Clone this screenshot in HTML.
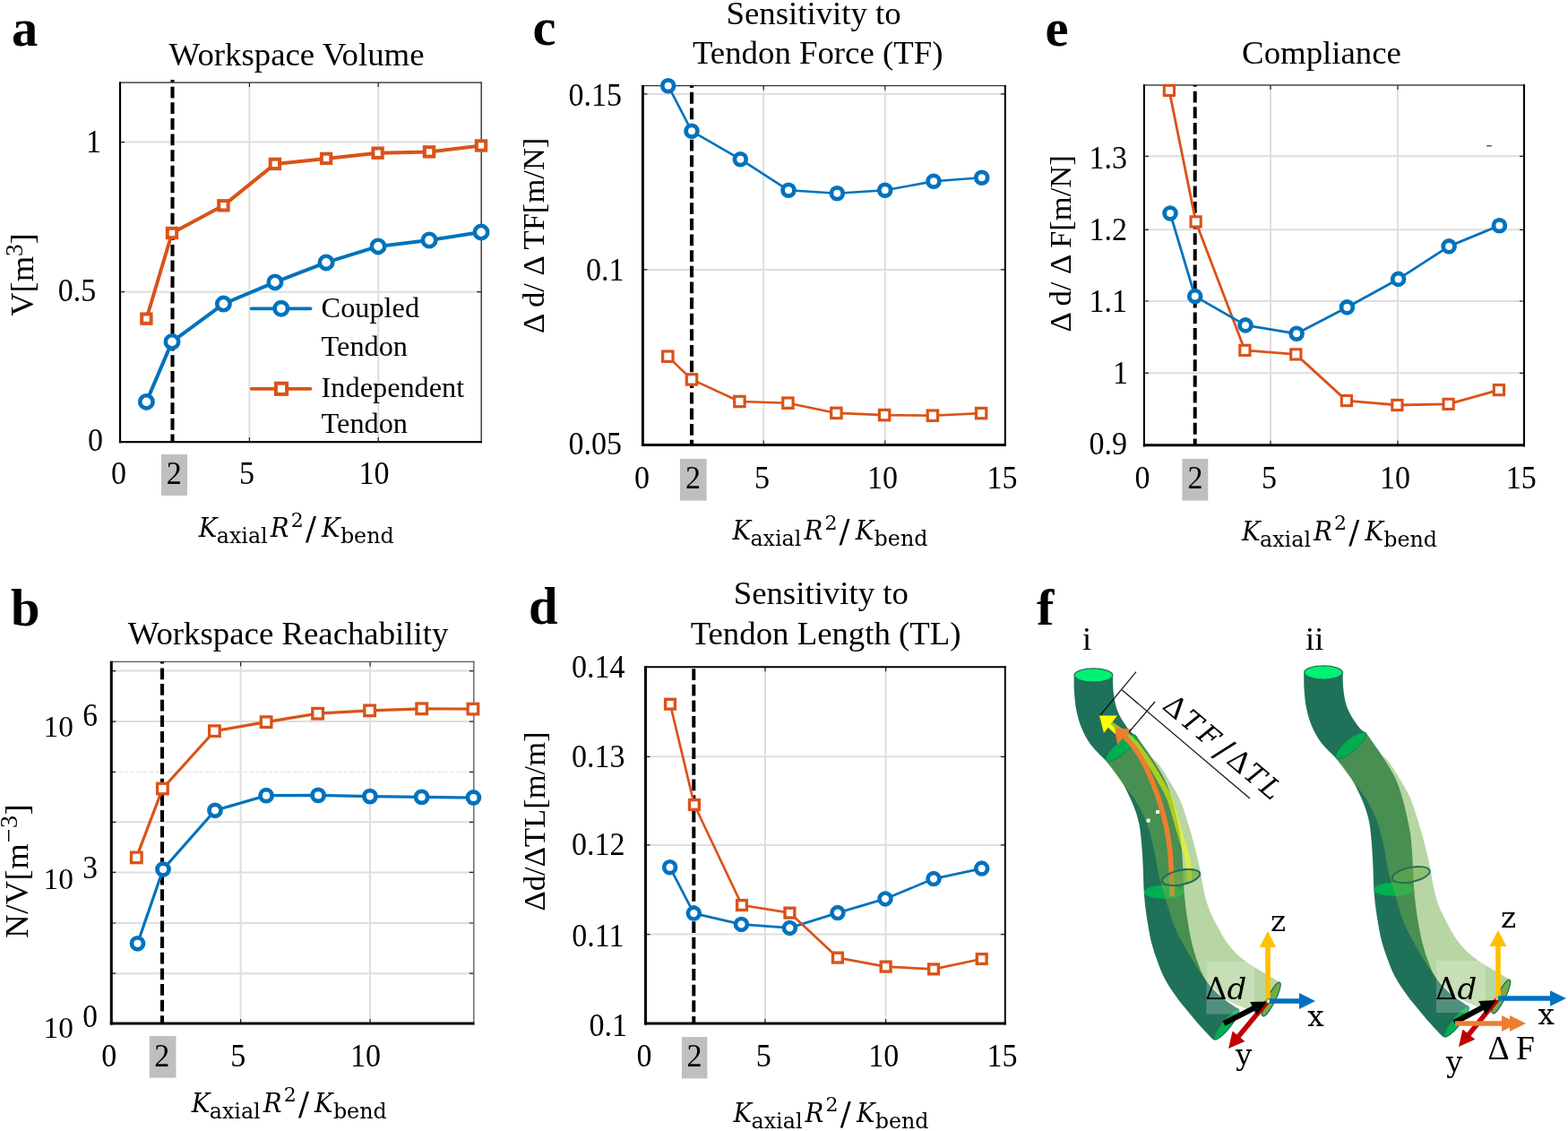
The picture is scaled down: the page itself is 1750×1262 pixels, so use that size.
<!DOCTYPE html>
<html lang="en"><head><meta charset="utf-8"><title>Figure</title>
<style>html,body{margin:0;padding:0;background:#fff;overflow:hidden}svg{display:block}</style></head><body>
<svg width="1750" height="1262" viewBox="0 0 1750 1262" role="img" aria-label="Six-panel figure: workspace volume, workspace reachability, sensitivity to tendon force, sensitivity to tendon length, compliance, and tendon robot illustrations">
<rect width="1750" height="1262" fill="#fff"/>
<line x1="278.4" y1="92.1" x2="278.4" y2="493.1" stroke="#dedede" stroke-width="2"/>
<line x1="422.2" y1="92.1" x2="422.2" y2="493.1" stroke="#dedede" stroke-width="2"/>
<line x1="134" y1="158.6" x2="537.2" y2="158.6" stroke="#dedede" stroke-width="2"/>
<line x1="134" y1="325.7" x2="537.2" y2="325.7" stroke="#dedede" stroke-width="2"/>
<path d="M278.4 493.1v-5 M278.4 92.1v5" stroke="#222" stroke-width="1.2"/>
<path d="M422.2 493.1v-5 M422.2 92.1v5" stroke="#222" stroke-width="1.2"/>
<path d="M134 158.6h5 M537.2 158.6h-5" stroke="#222" stroke-width="1.2"/>
<path d="M134 325.7h5 M537.2 325.7h-5" stroke="#222" stroke-width="1.2"/>
<line x1="132.9" y1="92.1" x2="537.9" y2="92.1" stroke="#222" stroke-width="1.3"/>
<line x1="537.2" y1="91.4" x2="537.2" y2="494.2" stroke="#222" stroke-width="1.3"/>
<line x1="192.5" y1="89.1" x2="192.5" y2="493.1" stroke="#000" stroke-width="4.1" stroke-dasharray="12.8 4.83" stroke-dashoffset="10.1"/>
<line x1="134" y1="91.4" x2="134" y2="494.2" stroke="#000" stroke-width="2.2"/>
<line x1="132.9" y1="493.1" x2="537.9" y2="493.1" stroke="#000" stroke-width="2.2"/>
<polyline fill="none" stroke="#0072BD" stroke-width="4.0" stroke-linejoin="round" points="163.4,448.4 192,381.4 249.4,339.1 306.9,314.9 364,292.9 422,274.9 479.1,268 537,259.1"/>
<polyline fill="none" stroke="#D95319" stroke-width="4.0" stroke-linejoin="round" points="163.4,355.7 192,260 249.4,229.3 306.9,182.9 364.1,176.9 421.6,170.7 479,169.4 537,162.5"/>
<circle cx="163.4" cy="448.4" r="7.2" fill="#fff" stroke="#0072BD" stroke-width="4.6"/>
<circle cx="192" cy="381.4" r="7.2" fill="#fff" stroke="#0072BD" stroke-width="4.6"/>
<circle cx="249.4" cy="339.1" r="7.2" fill="#fff" stroke="#0072BD" stroke-width="4.6"/>
<circle cx="306.9" cy="314.9" r="7.2" fill="#fff" stroke="#0072BD" stroke-width="4.6"/>
<circle cx="364" cy="292.9" r="7.2" fill="#fff" stroke="#0072BD" stroke-width="4.6"/>
<circle cx="422" cy="274.9" r="7.2" fill="#fff" stroke="#0072BD" stroke-width="4.6"/>
<circle cx="479.1" cy="268" r="7.2" fill="#fff" stroke="#0072BD" stroke-width="4.6"/>
<circle cx="537" cy="259.1" r="7.2" fill="#fff" stroke="#0072BD" stroke-width="4.6"/>
<rect x="158.2" y="350.5" width="10.4" height="10.4" fill="#fff" stroke="#D95319" stroke-width="4.0"/>
<rect x="186.8" y="254.8" width="10.4" height="10.4" fill="#fff" stroke="#D95319" stroke-width="4.0"/>
<rect x="244.2" y="224.1" width="10.4" height="10.4" fill="#fff" stroke="#D95319" stroke-width="4.0"/>
<rect x="301.7" y="177.7" width="10.4" height="10.4" fill="#fff" stroke="#D95319" stroke-width="4.0"/>
<rect x="358.9" y="171.7" width="10.4" height="10.4" fill="#fff" stroke="#D95319" stroke-width="4.0"/>
<rect x="416.4" y="165.5" width="10.4" height="10.4" fill="#fff" stroke="#D95319" stroke-width="4.0"/>
<rect x="473.8" y="164.2" width="10.4" height="10.4" fill="#fff" stroke="#D95319" stroke-width="4.0"/>
<rect x="531.8" y="157.3" width="10.4" height="10.4" fill="#fff" stroke="#D95319" stroke-width="4.0"/>
<rect x="180" y="507" width="29" height="46" fill="#bfbfbf"/>
<text transform="translate(132.5 540.2) scale(0.955 1)" font-size="35.6" text-anchor="middle" font-family='"Liberation Serif", serif' >0</text>
<text transform="translate(194.3 540.2) scale(0.955 1)" font-size="35.6" text-anchor="middle" font-family='"Liberation Serif", serif' >2</text>
<text transform="translate(275.6 540.2) scale(0.955 1)" font-size="35.6" text-anchor="middle" font-family='"Liberation Serif", serif' >5</text>
<text transform="translate(417.5 540.2) scale(0.955 1)" font-size="35.6" text-anchor="middle" font-family='"Liberation Serif", serif' >10</text>
<text transform="translate(115 503.2) scale(0.955 1)" font-size="35.6" text-anchor="end" font-family='"Liberation Serif", serif' >0</text>
<text transform="translate(107.3 336.2) scale(0.955 1)" font-size="35.6" text-anchor="end" font-family='"Liberation Serif", serif' >0.5</text>
<text transform="translate(113 169.7) scale(0.955 1)" font-size="35.6" text-anchor="end" font-family='"Liberation Serif", serif' >1</text>
<text transform="translate(221.7 599.3) scale(0.9 1)" font-family='"DejaVu Serif", "Liberation Serif", serif' font-size="30.7" font-style="italic">K</text>
<text x="241.7" y="606.1" font-family='"DejaVu Serif", "Liberation Serif", serif' font-size="23.8">axial</text>
<text transform="translate(301.7 599.3) scale(0.9 1)" font-family='"DejaVu Serif", "Liberation Serif", serif' font-size="30.7" font-style="italic">R</text>
<text x="324.7" y="587.5" font-family='"DejaVu Serif", "Liberation Serif", serif' font-size="22">2</text>
<text x="340.9" y="601.9" font-family='"DejaVu Serif", "Liberation Serif", serif' font-size="35.6">/</text>
<text transform="translate(359.1 599.3) scale(0.9 1)" font-family='"DejaVu Serif", "Liberation Serif", serif' font-size="30.7" font-style="italic">K</text>
<text x="379.9" y="606.1" font-family='"DejaVu Serif", "Liberation Serif", serif' font-size="23.8">bend</text>
<text x="188.6" y="73.3" font-size="36.8" text-anchor="start" font-family='"Liberation Serif", serif' >Workspace Volume</text>
<text transform="translate(37.2 306.5) rotate(-90)" font-size="36.5" text-anchor="middle" font-family='"Liberation Serif", serif' >V[m<tspan font-size="27" dy="-12.5">3</tspan><tspan dy="12.5">]</tspan></text>
<line x1="280.7" y1="344.3" x2="346.5" y2="344.3" stroke="#0072BD" stroke-width="3.8" stroke-linecap="round"/>
<circle cx="313.8" cy="344.3" r="7.2" fill="#fff" stroke="#0072BD" stroke-width="4.6"/>
<line x1="280.7" y1="433.8" x2="346.5" y2="433.8" stroke="#D95319" stroke-width="3.8" stroke-linecap="round"/>
<rect x="307.9" y="427.7" width="12.2" height="12.2" fill="#fff" stroke="#D95319" stroke-width="4.0"/>
<text x="358.6" y="354.3" font-size="32.3" text-anchor="start" font-family='"Liberation Serif", serif' >Coupled</text>
<text x="358.6" y="396.8" font-size="32.3" text-anchor="start" font-family='"Liberation Serif", serif' >Tendon</text>
<text x="358.6" y="443.4" font-size="32.3" text-anchor="start" font-family='"Liberation Serif", serif' >Independent</text>
<text x="358.6" y="483" font-size="32.3" text-anchor="start" font-family='"Liberation Serif", serif' >Tendon</text>
<line x1="268.6" y1="738.4" x2="268.6" y2="1142.1" stroke="#dedede" stroke-width="2"/>
<line x1="413.1" y1="738.4" x2="413.1" y2="1142.1" stroke="#dedede" stroke-width="2"/>
<line x1="124.3" y1="748.6" x2="528.8" y2="748.6" stroke="#dedede" stroke-width="2"/>
<line x1="124.3" y1="805.1" x2="528.8" y2="805.1" stroke="#dedede" stroke-width="2"/>
<line x1="124.3" y1="917.3" x2="528.8" y2="917.3" stroke="#dedede" stroke-width="2"/>
<line x1="124.3" y1="973.4" x2="528.8" y2="973.4" stroke="#dedede" stroke-width="2"/>
<line x1="124.3" y1="1030" x2="528.8" y2="1030" stroke="#dedede" stroke-width="2"/>
<line x1="124.3" y1="1086.2" x2="528.8" y2="1086.2" stroke="#dedede" stroke-width="2"/>
<line x1="124.3" y1="861.3" x2="528.8" y2="861.3" stroke="#e6e6e6" stroke-width="1.2" stroke-dasharray="5 2"/>
<path d="M268.6 1142.1v-5 M268.6 738.4v5" stroke="#222" stroke-width="1.2"/>
<path d="M413.1 1142.1v-5 M413.1 738.4v5" stroke="#222" stroke-width="1.2"/>
<path d="M124.3 748.6h5 M528.8 748.6h-5" stroke="#222" stroke-width="1.2"/>
<path d="M124.3 805.1h5 M528.8 805.1h-5" stroke="#222" stroke-width="1.2"/>
<path d="M124.3 917.3h5 M528.8 917.3h-5" stroke="#222" stroke-width="1.2"/>
<path d="M124.3 973.4h5 M528.8 973.4h-5" stroke="#222" stroke-width="1.2"/>
<path d="M124.3 1030h5 M528.8 1030h-5" stroke="#222" stroke-width="1.2"/>
<path d="M124.3 1086.2h5 M528.8 1086.2h-5" stroke="#222" stroke-width="1.2"/>
<path d="M124.3 861.3h5 M528.8 861.3h-5" stroke="#222" stroke-width="1.2"/>
<line x1="122.8" y1="738.4" x2="529.4" y2="738.4" stroke="#555" stroke-width="1.3"/>
<line x1="528.8" y1="737.8" x2="528.8" y2="1143.6" stroke="#555" stroke-width="1.3"/>
<line x1="181" y1="738.4" x2="181" y2="1142.1" stroke="#000" stroke-width="4.1" stroke-dasharray="12.8 4.83" stroke-dashoffset="10.6"/>
<line x1="124.3" y1="737.8" x2="124.3" y2="1143.6" stroke="#000" stroke-width="3.0"/>
<line x1="122.8" y1="1142.1" x2="529.4" y2="1142.1" stroke="#000" stroke-width="3.0"/>
<polyline fill="none" stroke="#0072BD" stroke-width="3.2" stroke-linejoin="round" points="153.5,1052.8 182,970 240,904.3 297.1,887.7 355.1,887.4 412.9,888.6 470.6,889.4 528.4,890"/>
<polyline fill="none" stroke="#D95319" stroke-width="3.2" stroke-linejoin="round" points="152.3,956.9 181.4,880 239.4,815.7 297.1,805.7 354.6,796.2 412.6,792.9 470.7,790.8 527.9,791.1"/>
<circle cx="153.5" cy="1052.8" r="6.5" fill="#fff" stroke="#0072BD" stroke-width="4.8"/>
<circle cx="182" cy="970" r="6.5" fill="#fff" stroke="#0072BD" stroke-width="4.8"/>
<circle cx="240" cy="904.3" r="6.5" fill="#fff" stroke="#0072BD" stroke-width="4.8"/>
<circle cx="297.1" cy="887.7" r="6.5" fill="#fff" stroke="#0072BD" stroke-width="4.8"/>
<circle cx="355.1" cy="887.4" r="6.5" fill="#fff" stroke="#0072BD" stroke-width="4.8"/>
<circle cx="412.9" cy="888.6" r="6.5" fill="#fff" stroke="#0072BD" stroke-width="4.8"/>
<circle cx="470.6" cy="889.4" r="6.5" fill="#fff" stroke="#0072BD" stroke-width="4.8"/>
<circle cx="528.4" cy="890" r="6.5" fill="#fff" stroke="#0072BD" stroke-width="4.8"/>
<rect x="146.5" y="951.1" width="11.6" height="11.6" fill="#fff" stroke="#D95319" stroke-width="3.3"/>
<rect x="175.6" y="874.2" width="11.6" height="11.6" fill="#fff" stroke="#D95319" stroke-width="3.3"/>
<rect x="233.6" y="809.9" width="11.6" height="11.6" fill="#fff" stroke="#D95319" stroke-width="3.3"/>
<rect x="291.3" y="799.9" width="11.6" height="11.6" fill="#fff" stroke="#D95319" stroke-width="3.3"/>
<rect x="348.8" y="790.4" width="11.6" height="11.6" fill="#fff" stroke="#D95319" stroke-width="3.3"/>
<rect x="406.8" y="787.1" width="11.6" height="11.6" fill="#fff" stroke="#D95319" stroke-width="3.3"/>
<rect x="464.9" y="785" width="11.6" height="11.6" fill="#fff" stroke="#D95319" stroke-width="3.3"/>
<rect x="522.1" y="785.3" width="11.6" height="11.6" fill="#fff" stroke="#D95319" stroke-width="3.3"/>
<rect x="166.7" y="1156.1" width="29.8" height="46.5" fill="#bfbfbf"/>
<text transform="translate(121.8 1189.7) scale(0.955 1)" font-size="35.6" text-anchor="middle" font-family='"Liberation Serif", serif' >0</text>
<text transform="translate(180.7 1189.7) scale(0.955 1)" font-size="35.6" text-anchor="middle" font-family='"Liberation Serif", serif' >2</text>
<text transform="translate(265.7 1189.7) scale(0.955 1)" font-size="35.6" text-anchor="middle" font-family='"Liberation Serif", serif' >5</text>
<text transform="translate(408 1189.7) scale(0.955 1)" font-size="35.6" text-anchor="middle" font-family='"Liberation Serif", serif' >10</text>
<text transform="translate(213.7 1241) scale(0.9 1)" font-family='"DejaVu Serif", "Liberation Serif", serif' font-size="30.7" font-style="italic">K</text>
<text x="233.7" y="1247.8" font-family='"DejaVu Serif", "Liberation Serif", serif' font-size="23.8">axial</text>
<text transform="translate(293.7 1241) scale(0.9 1)" font-family='"DejaVu Serif", "Liberation Serif", serif' font-size="30.7" font-style="italic">R</text>
<text x="316.7" y="1229.2" font-family='"DejaVu Serif", "Liberation Serif", serif' font-size="22">2</text>
<text x="332.9" y="1243.6" font-family='"DejaVu Serif", "Liberation Serif", serif' font-size="35.6">/</text>
<text transform="translate(351.1 1241) scale(0.9 1)" font-family='"DejaVu Serif", "Liberation Serif", serif' font-size="30.7" font-style="italic">K</text>
<text x="371.9" y="1247.8" font-family='"DejaVu Serif", "Liberation Serif", serif' font-size="23.8">bend</text>
<text x="48.6" y="822.3" font-size="33.4" text-anchor="start" font-family='"Liberation Serif", serif' >10</text>
<text transform="translate(92.3 809.6) scale(0.95 1)" font-size="35.2" text-anchor="start" font-family='"Liberation Serif", serif' >6</text>
<text x="48.6" y="991.7" font-size="33.4" text-anchor="start" font-family='"Liberation Serif", serif' >10</text>
<text transform="translate(92.3 980.3) scale(0.95 1)" font-size="35.2" text-anchor="start" font-family='"Liberation Serif", serif' >3</text>
<text x="48.6" y="1158.3" font-size="33.4" text-anchor="start" font-family='"Liberation Serif", serif' >10</text>
<text transform="translate(92.3 1146.3) scale(0.95 1)" font-size="35.2" text-anchor="start" font-family='"Liberation Serif", serif' >0</text>
<text x="142.7" y="718.8" font-size="36.8" text-anchor="start" font-family='"Liberation Serif", serif' >Workspace Reachability</text>
<text transform="translate(31 971.8) rotate(-90)" font-size="36.5" text-anchor="middle" font-family='"Liberation Serif", serif' letter-spacing="0.45">N/V[m<tspan font-size="28" dy="-12.5" dx="0.8">−3</tspan><tspan dy="12.5">]</tspan></text>
<line x1="852.2" y1="95.6" x2="852.2" y2="496.5" stroke="#dedede" stroke-width="2"/>
<line x1="987.8" y1="95.6" x2="987.8" y2="496.5" stroke="#dedede" stroke-width="2"/>
<line x1="717.4" y1="104.9" x2="1121.8" y2="104.9" stroke="#dedede" stroke-width="2"/>
<line x1="717.4" y1="300.9" x2="1121.8" y2="300.9" stroke="#dedede" stroke-width="2"/>
<path d="M852.2 496.5v-5 M852.2 95.6v5" stroke="#222" stroke-width="1.2"/>
<path d="M987.8 496.5v-5 M987.8 95.6v5" stroke="#222" stroke-width="1.2"/>
<path d="M717.4 104.9h5 M1121.8 104.9h-5" stroke="#222" stroke-width="1.2"/>
<path d="M717.4 300.9h5 M1121.8 300.9h-5" stroke="#222" stroke-width="1.2"/>
<line x1="715.9" y1="95.6" x2="1122.8" y2="95.6" stroke="#333" stroke-width="1.3"/>
<line x1="1121.8" y1="94.9" x2="1121.8" y2="497.9" stroke="#000" stroke-width="2.0"/>
<line x1="772" y1="95.6" x2="772" y2="496.5" stroke="#000" stroke-width="4.1" stroke-dasharray="12.8 4.83" stroke-dashoffset="10.4"/>
<line x1="717.4" y1="94.9" x2="717.4" y2="497.9" stroke="#000" stroke-width="2.9"/>
<line x1="715.9" y1="496.5" x2="1122.8" y2="496.5" stroke="#000" stroke-width="2.9"/>
<polyline fill="none" stroke="#0072BD" stroke-width="2.6" stroke-linejoin="round" points="745.7,95.7 772,146.3 826.3,177.7 880,212.3 934.3,215.7 987.7,212.3 1042,202.3 1095.7,198.3"/>
<polyline fill="none" stroke="#D95319" stroke-width="2.6" stroke-linejoin="round" points="745.3,397.7 772,423.4 825.4,448 879.4,449.7 933.4,460.9 987.1,463.1 1040.9,463.7 1095.1,461.1"/>
<circle cx="745.7" cy="95.7" r="6.4" fill="#fff" stroke="#0072BD" stroke-width="4.8"/>
<circle cx="772" cy="146.3" r="6.4" fill="#fff" stroke="#0072BD" stroke-width="4.8"/>
<circle cx="826.3" cy="177.7" r="6.4" fill="#fff" stroke="#0072BD" stroke-width="4.8"/>
<circle cx="880" cy="212.3" r="6.4" fill="#fff" stroke="#0072BD" stroke-width="4.8"/>
<circle cx="934.3" cy="215.7" r="6.4" fill="#fff" stroke="#0072BD" stroke-width="4.8"/>
<circle cx="987.7" cy="212.3" r="6.4" fill="#fff" stroke="#0072BD" stroke-width="4.8"/>
<circle cx="1042" cy="202.3" r="6.4" fill="#fff" stroke="#0072BD" stroke-width="4.8"/>
<circle cx="1095.7" cy="198.3" r="6.4" fill="#fff" stroke="#0072BD" stroke-width="4.8"/>
<rect x="739.6" y="392" width="11.4" height="11.4" fill="#fff" stroke="#D95319" stroke-width="3.2"/>
<rect x="766.3" y="417.7" width="11.4" height="11.4" fill="#fff" stroke="#D95319" stroke-width="3.2"/>
<rect x="819.7" y="442.3" width="11.4" height="11.4" fill="#fff" stroke="#D95319" stroke-width="3.2"/>
<rect x="873.7" y="444" width="11.4" height="11.4" fill="#fff" stroke="#D95319" stroke-width="3.2"/>
<rect x="927.7" y="455.2" width="11.4" height="11.4" fill="#fff" stroke="#D95319" stroke-width="3.2"/>
<rect x="981.4" y="457.4" width="11.4" height="11.4" fill="#fff" stroke="#D95319" stroke-width="3.2"/>
<rect x="1035.2" y="458" width="11.4" height="11.4" fill="#fff" stroke="#D95319" stroke-width="3.2"/>
<rect x="1089.4" y="455.4" width="11.4" height="11.4" fill="#fff" stroke="#D95319" stroke-width="3.2"/>
<rect x="758.9" y="512" width="29.7" height="46.6" fill="#bfbfbf"/>
<text transform="translate(716.6 544.7) scale(0.955 1)" font-size="35.6" text-anchor="middle" font-family='"Liberation Serif", serif' >0</text>
<text transform="translate(773.5 544.7) scale(0.955 1)" font-size="35.6" text-anchor="middle" font-family='"Liberation Serif", serif' >2</text>
<text transform="translate(850.6 544.7) scale(0.955 1)" font-size="35.6" text-anchor="middle" font-family='"Liberation Serif", serif' >5</text>
<text transform="translate(984.9 544.7) scale(0.955 1)" font-size="35.6" text-anchor="middle" font-family='"Liberation Serif", serif' >10</text>
<text transform="translate(1118.6 544.7) scale(0.955 1)" font-size="35.6" text-anchor="middle" font-family='"Liberation Serif", serif' >15</text>
<text transform="translate(694 118) scale(0.955 1)" font-size="35.6" text-anchor="end" font-family='"Liberation Serif", serif' >0.15</text>
<text transform="translate(696.4 313.4) scale(0.955 1)" font-size="35.6" text-anchor="end" font-family='"Liberation Serif", serif' >0.1</text>
<text transform="translate(694 507.2) scale(0.955 1)" font-size="35.6" text-anchor="end" font-family='"Liberation Serif", serif' >0.05</text>
<text transform="translate(817.4 602.4) scale(0.9 1)" font-family='"DejaVu Serif", "Liberation Serif", serif' font-size="30.7" font-style="italic">K</text>
<text x="837.4" y="609.2" font-family='"DejaVu Serif", "Liberation Serif", serif' font-size="23.8">axial</text>
<text transform="translate(897.4 602.4) scale(0.9 1)" font-family='"DejaVu Serif", "Liberation Serif", serif' font-size="30.7" font-style="italic">R</text>
<text x="920.4" y="590.6" font-family='"DejaVu Serif", "Liberation Serif", serif' font-size="22">2</text>
<text x="936.6" y="605" font-family='"DejaVu Serif", "Liberation Serif", serif' font-size="35.6">/</text>
<text transform="translate(954.8 602.4) scale(0.9 1)" font-family='"DejaVu Serif", "Liberation Serif", serif' font-size="30.7" font-style="italic">K</text>
<text x="975.6" y="609.2" font-family='"DejaVu Serif", "Liberation Serif", serif' font-size="23.8">bend</text>
<text x="908.1" y="26.6" font-size="36.8" text-anchor="middle" font-family='"Liberation Serif", serif' >Sensitivity to</text>
<text x="912.7" y="71.2" font-size="36.8" text-anchor="middle" font-family='"Liberation Serif", serif' >Tendon Force (TF)</text>
<text transform="translate(607.3 262.8) rotate(-90)" font-size="34.6" text-anchor="middle" font-family='"Liberation Serif", serif' >Δ d/ Δ TF[m/N]</text>
<line x1="854" y1="744.3" x2="854" y2="1142.1" stroke="#dedede" stroke-width="2"/>
<line x1="988.6" y1="744.3" x2="988.6" y2="1142.1" stroke="#dedede" stroke-width="2"/>
<line x1="720.5" y1="844.3" x2="1121.8" y2="844.3" stroke="#dedede" stroke-width="2"/>
<line x1="720.5" y1="942.9" x2="1121.8" y2="942.9" stroke="#dedede" stroke-width="2"/>
<line x1="720.5" y1="1042.6" x2="1121.8" y2="1042.6" stroke="#dedede" stroke-width="2"/>
<path d="M854 1142.1v-5 M854 744.3v5" stroke="#222" stroke-width="1.2"/>
<path d="M988.6 1142.1v-5 M988.6 744.3v5" stroke="#222" stroke-width="1.2"/>
<path d="M720.5 844.3h5 M1121.8 844.3h-5" stroke="#222" stroke-width="1.2"/>
<path d="M720.5 942.9h5 M1121.8 942.9h-5" stroke="#222" stroke-width="1.2"/>
<path d="M720.5 1042.6h5 M1121.8 1042.6h-5" stroke="#222" stroke-width="1.2"/>
<line x1="719" y1="744.3" x2="1122.8" y2="744.3" stroke="#000" stroke-width="2.1"/>
<line x1="1121.8" y1="743.2" x2="1121.8" y2="1143.6" stroke="#000" stroke-width="1.9"/>
<line x1="774.3" y1="744.3" x2="774.3" y2="1142.1" stroke="#000" stroke-width="4.0" stroke-dasharray="12.8 4.83" stroke-dashoffset="15.8"/>
<line x1="720.5" y1="743.2" x2="720.5" y2="1143.6" stroke="#000" stroke-width="3.0"/>
<line x1="719" y1="1142.1" x2="1122.8" y2="1142.1" stroke="#000" stroke-width="3.0"/>
<polyline fill="none" stroke="#0072BD" stroke-width="2.7" stroke-linejoin="round" points="747.6,967.7 774.3,1019.1 827.4,1031.4 881.4,1035.4 934.9,1018.6 988,1002.9 1042,980.6 1095.7,969.1"/>
<polyline fill="none" stroke="#D95319" stroke-width="2.7" stroke-linejoin="round" points="748,785.7 774.9,898 828,1010 881.4,1018.6 934.9,1068.6 988.6,1078.6 1042,1081.4 1095.7,1070"/>
<circle cx="747.6" cy="967.7" r="6.45" fill="#fff" stroke="#0072BD" stroke-width="4.6"/>
<circle cx="774.3" cy="1019.1" r="6.45" fill="#fff" stroke="#0072BD" stroke-width="4.6"/>
<circle cx="827.4" cy="1031.4" r="6.45" fill="#fff" stroke="#0072BD" stroke-width="4.6"/>
<circle cx="881.4" cy="1035.4" r="6.45" fill="#fff" stroke="#0072BD" stroke-width="4.6"/>
<circle cx="934.9" cy="1018.6" r="6.45" fill="#fff" stroke="#0072BD" stroke-width="4.6"/>
<circle cx="988" cy="1002.9" r="6.45" fill="#fff" stroke="#0072BD" stroke-width="4.6"/>
<circle cx="1042" cy="980.6" r="6.45" fill="#fff" stroke="#0072BD" stroke-width="4.6"/>
<circle cx="1095.7" cy="969.1" r="6.45" fill="#fff" stroke="#0072BD" stroke-width="4.6"/>
<rect x="742.6" y="780.3" width="10.8" height="10.8" fill="#fff" stroke="#D95319" stroke-width="3.4"/>
<rect x="769.5" y="892.6" width="10.8" height="10.8" fill="#fff" stroke="#D95319" stroke-width="3.4"/>
<rect x="822.6" y="1004.6" width="10.8" height="10.8" fill="#fff" stroke="#D95319" stroke-width="3.4"/>
<rect x="876" y="1013.2" width="10.8" height="10.8" fill="#fff" stroke="#D95319" stroke-width="3.4"/>
<rect x="929.5" y="1063.2" width="10.8" height="10.8" fill="#fff" stroke="#D95319" stroke-width="3.4"/>
<rect x="983.2" y="1073.2" width="10.8" height="10.8" fill="#fff" stroke="#D95319" stroke-width="3.4"/>
<rect x="1036.6" y="1076" width="10.8" height="10.8" fill="#fff" stroke="#D95319" stroke-width="3.4"/>
<rect x="1090.3" y="1064.6" width="10.8" height="10.8" fill="#fff" stroke="#D95319" stroke-width="3.4"/>
<rect x="760.9" y="1157.1" width="28.5" height="46.3" fill="#bfbfbf"/>
<text transform="translate(719.1 1189.7) scale(0.955 1)" font-size="35.6" text-anchor="middle" font-family='"Liberation Serif", serif' >0</text>
<text transform="translate(775 1189.7) scale(0.955 1)" font-size="35.6" text-anchor="middle" font-family='"Liberation Serif", serif' >2</text>
<text transform="translate(852.3 1189.7) scale(0.955 1)" font-size="35.6" text-anchor="middle" font-family='"Liberation Serif", serif' >5</text>
<text transform="translate(986.3 1189.7) scale(0.955 1)" font-size="35.6" text-anchor="middle" font-family='"Liberation Serif", serif' >10</text>
<text transform="translate(1118.6 1189.7) scale(0.955 1)" font-size="35.6" text-anchor="middle" font-family='"Liberation Serif", serif' >15</text>
<text transform="translate(697.6 755.9) scale(0.955 1)" font-size="35.6" text-anchor="end" font-family='"Liberation Serif", serif' >0.14</text>
<text transform="translate(697.6 855.7) scale(0.955 1)" font-size="35.6" text-anchor="end" font-family='"Liberation Serif", serif' >0.13</text>
<text transform="translate(697.6 954.1) scale(0.955 1)" font-size="35.6" text-anchor="end" font-family='"Liberation Serif", serif' >0.12</text>
<text transform="translate(696.4 1055.8) scale(0.955 1)" font-size="35.6" text-anchor="end" font-family='"Liberation Serif", serif' >0.11</text>
<text transform="translate(700 1155.5) scale(0.955 1)" font-size="35.6" text-anchor="end" font-family='"Liberation Serif", serif' >0.1</text>
<text transform="translate(818.5 1252) scale(0.9 1)" font-family='"DejaVu Serif", "Liberation Serif", serif' font-size="30.7" font-style="italic">K</text>
<text x="838.5" y="1258.8" font-family='"DejaVu Serif", "Liberation Serif", serif' font-size="23.8">axial</text>
<text transform="translate(898.5 1252) scale(0.9 1)" font-family='"DejaVu Serif", "Liberation Serif", serif' font-size="30.7" font-style="italic">R</text>
<text x="921.5" y="1240.2" font-family='"DejaVu Serif", "Liberation Serif", serif' font-size="22">2</text>
<text x="937.7" y="1254.6" font-family='"DejaVu Serif", "Liberation Serif", serif' font-size="35.6">/</text>
<text transform="translate(955.9 1252) scale(0.9 1)" font-family='"DejaVu Serif", "Liberation Serif", serif' font-size="30.7" font-style="italic">K</text>
<text x="976.7" y="1258.8" font-family='"DejaVu Serif", "Liberation Serif", serif' font-size="23.8">bend</text>
<text x="916.3" y="674.3" font-size="36.8" text-anchor="middle" font-family='"Liberation Serif", serif' >Sensitivity to</text>
<text x="921.6" y="718.6" font-size="36.8" text-anchor="middle" font-family='"Liberation Serif", serif' >Tendon Length (TL)</text>
<text transform="translate(608.4 916.4) rotate(-90)" font-size="34.6" text-anchor="middle" font-family='"Liberation Serif", serif' >Δd/ΔTL[m/m]</text>
<line x1="1418" y1="95.1" x2="1418" y2="496.8" stroke="#dedede" stroke-width="2"/>
<line x1="1560" y1="95.1" x2="1560" y2="496.8" stroke="#dedede" stroke-width="2"/>
<line x1="1276.9" y1="174.3" x2="1701" y2="174.3" stroke="#dedede" stroke-width="2"/>
<line x1="1276.9" y1="256.3" x2="1701" y2="256.3" stroke="#dedede" stroke-width="2"/>
<line x1="1276.9" y1="336" x2="1701" y2="336" stroke="#dedede" stroke-width="2"/>
<line x1="1276.9" y1="416.3" x2="1701" y2="416.3" stroke="#dedede" stroke-width="2"/>
<path d="M1418 496.8v-5 M1418 95.1v5" stroke="#222" stroke-width="1.2"/>
<path d="M1560 496.8v-5 M1560 95.1v5" stroke="#222" stroke-width="1.2"/>
<path d="M1276.9 174.3h5 M1701 174.3h-5" stroke="#222" stroke-width="1.2"/>
<path d="M1276.9 256.3h5 M1701 256.3h-5" stroke="#222" stroke-width="1.2"/>
<path d="M1276.9 336h5 M1701 336h-5" stroke="#222" stroke-width="1.2"/>
<path d="M1276.9 416.3h5 M1701 416.3h-5" stroke="#222" stroke-width="1.2"/>
<line x1="1275.9" y1="95.1" x2="1702" y2="95.1" stroke="#444" stroke-width="1.5"/>
<line x1="1701" y1="94.3" x2="1701" y2="498.4" stroke="#000" stroke-width="2.1"/>
<line x1="1333.7" y1="95.1" x2="1333.7" y2="496.8" stroke="#000" stroke-width="4.0" stroke-dasharray="12.8 4.83" stroke-dashoffset="11.1"/>
<line x1="1276.9" y1="94.3" x2="1276.9" y2="498.4" stroke="#000" stroke-width="2.1"/>
<line x1="1275.9" y1="496.8" x2="1702" y2="496.8" stroke="#000" stroke-width="3.1"/>
<polyline fill="none" stroke="#D95319" stroke-width="2.8" stroke-linejoin="round" points="1304.9,100.9 1334.6,247.4 1389.4,390.9 1446.3,395.4 1502.9,447.1 1559.4,452 1616.6,450.9 1672.9,435.1"/>
<polyline fill="none" stroke="#0072BD" stroke-width="2.8" stroke-linejoin="round" points="1306,238 1333.7,330.6 1390,362.9 1447.1,372.3 1503.4,342.9 1560.6,311.4 1617.1,274.9 1673.4,251.7"/>
<rect x="1299.3" y="95.3" width="11.2" height="11.2" fill="#fff" stroke="#D95319" stroke-width="3.1"/>
<rect x="1329" y="241.8" width="11.2" height="11.2" fill="#fff" stroke="#D95319" stroke-width="3.1"/>
<rect x="1383.8" y="385.3" width="11.2" height="11.2" fill="#fff" stroke="#D95319" stroke-width="3.1"/>
<rect x="1440.7" y="389.8" width="11.2" height="11.2" fill="#fff" stroke="#D95319" stroke-width="3.1"/>
<rect x="1497.3" y="441.5" width="11.2" height="11.2" fill="#fff" stroke="#D95319" stroke-width="3.1"/>
<rect x="1553.8" y="446.4" width="11.2" height="11.2" fill="#fff" stroke="#D95319" stroke-width="3.1"/>
<rect x="1611" y="445.3" width="11.2" height="11.2" fill="#fff" stroke="#D95319" stroke-width="3.1"/>
<rect x="1667.3" y="429.5" width="11.2" height="11.2" fill="#fff" stroke="#D95319" stroke-width="3.1"/>
<circle cx="1306" cy="238" r="6.4" fill="#fff" stroke="#0072BD" stroke-width="4.8"/>
<circle cx="1333.7" cy="330.6" r="6.4" fill="#fff" stroke="#0072BD" stroke-width="4.8"/>
<circle cx="1390" cy="362.9" r="6.4" fill="#fff" stroke="#0072BD" stroke-width="4.8"/>
<circle cx="1447.1" cy="372.3" r="6.4" fill="#fff" stroke="#0072BD" stroke-width="4.8"/>
<circle cx="1503.4" cy="342.9" r="6.4" fill="#fff" stroke="#0072BD" stroke-width="4.8"/>
<circle cx="1560.6" cy="311.4" r="6.4" fill="#fff" stroke="#0072BD" stroke-width="4.8"/>
<circle cx="1617.1" cy="274.9" r="6.4" fill="#fff" stroke="#0072BD" stroke-width="4.8"/>
<circle cx="1673.4" cy="251.7" r="6.4" fill="#fff" stroke="#0072BD" stroke-width="4.8"/>
<rect x="1319.4" y="512" width="28.9" height="46.6" fill="#bfbfbf"/>
<text transform="translate(1275 544.7) scale(0.955 1)" font-size="35.6" text-anchor="middle" font-family='"Liberation Serif", serif' >0</text>
<text transform="translate(1334 544.7) scale(0.955 1)" font-size="35.6" text-anchor="middle" font-family='"Liberation Serif", serif' >2</text>
<text transform="translate(1416.6 544.7) scale(0.955 1)" font-size="35.6" text-anchor="middle" font-family='"Liberation Serif", serif' >5</text>
<text transform="translate(1557 544.7) scale(0.955 1)" font-size="35.6" text-anchor="middle" font-family='"Liberation Serif", serif' >10</text>
<text transform="translate(1697.7 544.7) scale(0.955 1)" font-size="35.6" text-anchor="middle" font-family='"Liberation Serif", serif' >15</text>
<text transform="translate(1258 187.7) scale(0.955 1)" font-size="35.6" text-anchor="end" font-family='"Liberation Serif", serif' >1.3</text>
<text transform="translate(1258 267.8) scale(0.955 1)" font-size="35.6" text-anchor="end" font-family='"Liberation Serif", serif' >1.2</text>
<text transform="translate(1258 348) scale(0.955 1)" font-size="35.6" text-anchor="end" font-family='"Liberation Serif", serif' >1.1</text>
<text transform="translate(1259 428.1) scale(0.955 1)" font-size="35.6" text-anchor="end" font-family='"Liberation Serif", serif' >1</text>
<text transform="translate(1258 507.2) scale(0.955 1)" font-size="35.6" text-anchor="end" font-family='"Liberation Serif", serif' >0.9</text>
<text transform="translate(1386 603) scale(0.9 1)" font-family='"DejaVu Serif", "Liberation Serif", serif' font-size="30.7" font-style="italic">K</text>
<text x="1406" y="609.8" font-family='"DejaVu Serif", "Liberation Serif", serif' font-size="23.8">axial</text>
<text transform="translate(1466 603) scale(0.9 1)" font-family='"DejaVu Serif", "Liberation Serif", serif' font-size="30.7" font-style="italic">R</text>
<text x="1489" y="591.2" font-family='"DejaVu Serif", "Liberation Serif", serif' font-size="22">2</text>
<text x="1505.2" y="605.6" font-family='"DejaVu Serif", "Liberation Serif", serif' font-size="35.6">/</text>
<text transform="translate(1523.4 603) scale(0.9 1)" font-family='"DejaVu Serif", "Liberation Serif", serif' font-size="30.7" font-style="italic">K</text>
<text x="1544.2" y="609.8" font-family='"DejaVu Serif", "Liberation Serif", serif' font-size="23.8">bend</text>
<text x="1475" y="71.4" font-size="36.8" text-anchor="middle" font-family='"Liberation Serif", serif' >Compliance</text>
<text transform="translate(1194.6 271.8) rotate(-90)" font-size="34.6" text-anchor="middle" font-family='"Liberation Serif", serif' >Δ d/ Δ F[m/N]</text>
<line x1="1659.8" y1="162.7" x2="1664.2" y2="162.7" stroke="#555" stroke-width="1.4" stroke-linecap="round"/>
<text x="13" y="50.9" font-size="58.5" text-anchor="start" font-family='"Liberation Serif", serif' font-weight="bold">a</text>
<text x="12" y="697.8" font-size="58.5" text-anchor="start" font-family='"Liberation Serif", serif' font-weight="bold">b</text>
<text x="594.5" y="50" font-size="58.5" text-anchor="start" font-family='"Liberation Serif", serif' font-weight="bold">c</text>
<text x="590" y="696.3" font-size="58.5" text-anchor="start" font-family='"Liberation Serif", serif' font-weight="bold">d</text>
<text x="1166.4" y="51.2" font-size="58.5" text-anchor="start" font-family='"Liberation Serif", serif' font-weight="bold">e</text>
<path d="M1455.2 752C1455.3 755 1455.1 763.7 1455.6 770C1456.1 776.3 1456.6 783.3 1458 790C1459.4 796.7 1461.3 803.7 1464 810C1466.7 816.3 1469.5 822 1474 828C1478.5 834 1488.2 843 1491 846C1492.6 848 1497.4 853.7 1500.6 858C1503.8 862.3 1507.3 867 1510.2 872C1513.1 877 1515.8 882.7 1518.2 888C1520.6 893.3 1522.9 898.7 1524.6 904C1526.3 909.3 1527.6 914.3 1528.6 920C1529.6 925.7 1530.1 932.2 1530.6 938C1531.1 943.8 1531.5 949.3 1531.8 955C1532.1 960.7 1532.4 966.2 1532.6 972C1532.8 977.8 1532.8 983.7 1533.2 990C1533.6 996.3 1534.2 1003.3 1535 1010C1535.8 1016.7 1536.8 1023.3 1538 1030C1539.2 1036.7 1540.2 1043.3 1542 1050C1543.8 1056.7 1546 1063.3 1548.5 1070C1551 1076.7 1553.4 1083.3 1557 1090C1560.6 1096.7 1565.2 1103.3 1570 1110C1574.8 1116.7 1581.2 1124.2 1586 1130C1590.8 1135.8 1594.3 1139.9 1598.5 1144.5C1602.7 1149.1 1608.9 1155.3 1611 1157.5L1639 1123C1635.5 1120.5 1624.2 1113.5 1618 1108C1611.8 1102.5 1606.2 1096.3 1602 1090C1597.8 1083.7 1595.5 1076.7 1593 1070C1590.5 1063.3 1588.7 1056.7 1587 1050C1585.3 1043.3 1584.2 1036.7 1583 1030C1581.8 1023.3 1580.8 1016.7 1580 1010C1579.2 1003.3 1578.5 996.7 1578 990C1577.5 983.3 1577.3 976.7 1577 970C1576.7 963.3 1576.5 956.7 1576 950C1575.5 943.3 1575 936.7 1574 930C1573 923.3 1571.5 916.7 1570 910C1568.5 903.3 1567 896.7 1565 890C1563 883.3 1560.8 876.3 1558 870C1555.2 863.7 1551.7 858 1548 852C1544.3 846 1539.9 839.7 1536 834C1532.1 828.3 1526.3 820.3 1524.4 817.6C1523.5 817 1521.4 816.6 1519 814C1516.6 811.4 1512.7 806.3 1510 802C1507.3 797.7 1504.8 793.3 1503 788C1501.2 782.7 1500.1 776 1499.4 770C1498.7 764 1498.7 755 1498.6 752Z" fill="#20715A"/>
<ellipse cx="1477" cy="750.5" rx="21.4" ry="7.6" fill="#00F272" stroke="#20715A" stroke-width="1.3"/>
<ellipse cx="1555.6" cy="992.4" rx="22.2" ry="7.4" fill="#00B050"/>
<ellipse cx="1625.5" cy="1140" rx="21.4" ry="5" transform="rotate(-51.5 1625.5 1140)" fill="#00B050" stroke="#20715A" stroke-width="1.2"/>
<path d="M1491 846C1491.5 846.7 1491.1 846 1494 850C1496.9 854 1503.8 863.7 1508.5 870C1513.2 876.3 1518.7 882.3 1522.5 888C1526.3 893.7 1528.8 898.7 1531.4 904C1534 909.3 1536.2 914 1538.2 920C1540.2 926 1542 934.2 1543.4 940C1544.8 945.8 1545.5 949.7 1546.5 955C1547.5 960.3 1548.2 966.2 1549.5 972C1550.8 977.8 1552.7 983.7 1554.5 990C1556.3 996.3 1558.4 1003.3 1560.5 1010C1562.6 1016.7 1564.2 1023.3 1567 1030C1569.8 1036.7 1573.4 1043.3 1577 1050C1580.6 1056.7 1584.3 1063.3 1588.5 1070C1592.7 1076.7 1597 1083.8 1602 1090C1607 1096.2 1613.3 1102.6 1618.5 1107C1623.7 1111.4 1627.8 1113.8 1633 1116.5C1638.2 1119.2 1644.5 1121.1 1650 1123.5C1655.5 1125.9 1663.3 1129.8 1666 1131L1685 1093C1682.2 1091.3 1673.3 1086.2 1668 1083C1662.7 1079.8 1657.9 1077.3 1653 1074C1648.1 1070.7 1643.1 1067.3 1638.5 1063C1633.9 1058.7 1629.4 1053.5 1625.5 1048C1621.6 1042.5 1618.3 1036.3 1615 1030C1611.7 1023.7 1608 1016.7 1605.5 1010C1603 1003.3 1601.5 996.7 1600 990C1598.5 983.3 1597.8 976.7 1596.5 970C1595.2 963.3 1593.6 956.7 1592 950C1590.4 943.3 1588.7 936.7 1586.8 930C1584.9 923.3 1583 916.7 1580.8 910C1578.6 903.3 1576.8 896.7 1573.8 890C1570.8 883.3 1566.8 876.7 1562.8 870C1558.8 863.3 1553.5 855 1549.8 850C1546.1 845 1544.7 845.4 1540.5 840C1536.3 834.6 1527.1 821.3 1524.4 817.6Z" fill="#70AD47" fill-opacity="0.5"/>
<ellipse cx="1507.7" cy="831.8" rx="21.6" ry="6.8" transform="rotate(-40.4 1507.7 831.8)" fill="#00AE50" stroke="#20715A" stroke-width="0.8"/>
<ellipse cx="1574.8" cy="976" rx="21.4" ry="8" transform="rotate(-12 1574.8 976)" fill="#70AD47" fill-opacity="0.55" stroke="#20715A" stroke-width="1.9"/>
<ellipse cx="1675.5" cy="1112" rx="21" ry="4.6" transform="rotate(-63.4 1675.5 1112)" fill="#70AD47" stroke="#20715A" stroke-width="1.3"/>
<g transform="translate(-256.6 3)">
<path d="M1455.2 752C1455.3 755 1455.1 763.7 1455.6 770C1456.1 776.3 1456.6 783.3 1458 790C1459.4 796.7 1461.3 803.7 1464 810C1466.7 816.3 1469.5 822 1474 828C1478.5 834 1488.2 843 1491 846C1492.6 848 1497.4 853.7 1500.6 858C1503.8 862.3 1507.3 867 1510.2 872C1513.1 877 1515.8 882.7 1518.2 888C1520.6 893.3 1522.9 898.7 1524.6 904C1526.3 909.3 1527.6 914.3 1528.6 920C1529.6 925.7 1530.1 932.2 1530.6 938C1531.1 943.8 1531.5 949.3 1531.8 955C1532.1 960.7 1532.4 966.2 1532.6 972C1532.8 977.8 1532.8 983.7 1533.2 990C1533.6 996.3 1534.2 1003.3 1535 1010C1535.8 1016.7 1536.8 1023.3 1538 1030C1539.2 1036.7 1540.2 1043.3 1542 1050C1543.8 1056.7 1546 1063.3 1548.5 1070C1551 1076.7 1553.4 1083.3 1557 1090C1560.6 1096.7 1565.2 1103.3 1570 1110C1574.8 1116.7 1581.2 1124.2 1586 1130C1590.8 1135.8 1594.3 1139.9 1598.5 1144.5C1602.7 1149.1 1608.9 1155.3 1611 1157.5L1639 1123C1635.5 1120.5 1624.2 1113.5 1618 1108C1611.8 1102.5 1606.2 1096.3 1602 1090C1597.8 1083.7 1595.5 1076.7 1593 1070C1590.5 1063.3 1588.7 1056.7 1587 1050C1585.3 1043.3 1584.2 1036.7 1583 1030C1581.8 1023.3 1580.8 1016.7 1580 1010C1579.2 1003.3 1578.5 996.7 1578 990C1577.5 983.3 1577.3 976.7 1577 970C1576.7 963.3 1576.5 956.7 1576 950C1575.5 943.3 1575 936.7 1574 930C1573 923.3 1571.5 916.7 1570 910C1568.5 903.3 1567 896.7 1565 890C1563 883.3 1560.8 876.3 1558 870C1555.2 863.7 1551.7 858 1548 852C1544.3 846 1539.9 839.7 1536 834C1532.1 828.3 1526.3 820.3 1524.4 817.6C1523.5 817 1521.4 816.6 1519 814C1516.6 811.4 1512.7 806.3 1510 802C1507.3 797.7 1504.8 793.3 1503 788C1501.2 782.7 1500.1 776 1499.4 770C1498.7 764 1498.7 755 1498.6 752Z" fill="#20715A"/>
<ellipse cx="1477" cy="750.5" rx="21.4" ry="7.6" fill="#00F272" stroke="#20715A" stroke-width="1.3"/>
<ellipse cx="1555.6" cy="992.4" rx="22.2" ry="7.4" fill="#00B050"/>
<ellipse cx="1625.5" cy="1140" rx="21.4" ry="5" transform="rotate(-51.5 1625.5 1140)" fill="#00B050" stroke="#20715A" stroke-width="1.2"/>
<path d="M1491 846C1491.5 846.7 1491.1 846 1494 850C1496.9 854 1503.8 863.7 1508.5 870C1513.2 876.3 1518.7 882.3 1522.5 888C1526.3 893.7 1528.8 898.7 1531.4 904C1534 909.3 1536.2 914 1538.2 920C1540.2 926 1542 934.2 1543.4 940C1544.8 945.8 1545.5 949.7 1546.5 955C1547.5 960.3 1548.2 966.2 1549.5 972C1550.8 977.8 1552.7 983.7 1554.5 990C1556.3 996.3 1558.4 1003.3 1560.5 1010C1562.6 1016.7 1564.2 1023.3 1567 1030C1569.8 1036.7 1573.4 1043.3 1577 1050C1580.6 1056.7 1584.3 1063.3 1588.5 1070C1592.7 1076.7 1597 1083.8 1602 1090C1607 1096.2 1613.3 1102.6 1618.5 1107C1623.7 1111.4 1627.8 1113.8 1633 1116.5C1638.2 1119.2 1644.5 1121.1 1650 1123.5C1655.5 1125.9 1663.3 1129.8 1666 1131L1685 1093C1682.2 1091.3 1673.3 1086.2 1668 1083C1662.7 1079.8 1657.9 1077.3 1653 1074C1648.1 1070.7 1643.1 1067.3 1638.5 1063C1633.9 1058.7 1629.4 1053.5 1625.5 1048C1621.6 1042.5 1618.3 1036.3 1615 1030C1611.7 1023.7 1608 1016.7 1605.5 1010C1603 1003.3 1601.5 996.7 1600 990C1598.5 983.3 1597.8 976.7 1596.5 970C1595.2 963.3 1593.6 956.7 1592 950C1590.4 943.3 1588.7 936.7 1586.8 930C1584.9 923.3 1583 916.7 1580.8 910C1578.6 903.3 1576.8 896.7 1573.8 890C1570.8 883.3 1566.8 876.7 1562.8 870C1558.8 863.3 1553.5 855 1549.8 850C1546.1 845 1544.7 845.4 1540.5 840C1536.3 834.6 1527.1 821.3 1524.4 817.6Z" fill="#70AD47" fill-opacity="0.5"/>
<ellipse cx="1507.7" cy="831.8" rx="21.6" ry="6.8" transform="rotate(-40.4 1507.7 831.8)" fill="#00AE50" stroke="#20715A" stroke-width="0.8"/>
<ellipse cx="1574.8" cy="976" rx="21.4" ry="8" transform="rotate(-12 1574.8 976)" fill="#70AD47" fill-opacity="0.55" stroke="#20715A" stroke-width="1.9"/>
<ellipse cx="1675.5" cy="1112" rx="21" ry="4.6" transform="rotate(-63.4 1675.5 1112)" fill="#70AD47" stroke="#20715A" stroke-width="1.3"/>
</g>
<path d="M1328 984C1327.6 980 1326.9 967.3 1325.6 960C1324.3 952.7 1321.9 946.7 1320 940C1318.1 933.3 1316.7 928.7 1314 920C1311.3 911.3 1308.7 898.7 1304 888C1299.3 877.3 1290.8 864 1286 856C1281.2 848 1279 845.3 1275 840C1271 834.7 1267.8 829.3 1262 824C1256.2 818.7 1243.7 810.7 1240 808" fill="none" stroke="#FFFF00" stroke-opacity="0.55" stroke-width="6"/>
<path d="M1308 1000C1307.9 995.8 1307.7 982.5 1307.4 975C1307.1 967.5 1306.8 960.8 1306.3 955C1305.8 949.2 1305.5 945.8 1304.6 940C1303.7 934.2 1303.1 928.7 1301 920C1298.9 911.3 1295.7 898.7 1292 888C1288.3 877.3 1282.7 864 1279 856C1275.3 848 1273 844.7 1270 840C1267 835.3 1263.8 831.3 1261 828C1258.2 824.7 1254.3 821.3 1253 820" fill="none" stroke="#ED7D31" stroke-width="5.6"/>
<path d="M1234 806L1251 821.5" stroke="#FFFF00" stroke-width="5" fill="none"/>
<polygon points="1227,798.6 1247,798.6 1232,818" fill="#FFFF00"/>
<polygon points="1244,812.4 1263.6,813.6 1247,830.5" fill="#ED7D31"/>
<path d="M1307.8 984L1308 1000" stroke="#B9943F" stroke-width="5.6" fill="none"/>
<rect x="1290" y="904" width="4" height="4" fill="#fff"/><rect x="1279.6" y="913.6" width="4" height="4" fill="#fff"/>
<ellipse cx="1318.2" cy="979" rx="21.4" ry="8" transform="rotate(-12 1318.2 979)" fill="#70AD47" fill-opacity="0.45" stroke="#20715A" stroke-width="1.9"/>
<path d="M1268 749.6L1228 798M1289 783L1260 817M1252.4 770L1395 891" stroke="#111" stroke-width="1.2" fill="none"/>
<text transform="translate(1296 789.8) rotate(40.2)" font-size="32" letter-spacing="1.4" font-family='"DejaVu Serif", "Liberation Serif", serif'>Δ<tspan font-style="italic" font-size="30.5" dx="1.5">T</tspan><tspan font-style="italic" font-size="30.5" dx="2.5">F</tspan><tspan font-size="37" dx="4.5" dy="3">/</tspan><tspan dx="2.5" dy="-3">Δ</tspan><tspan font-style="italic" font-size="30.5">T</tspan><tspan font-style="italic" font-size="30.5" dx="1.5">L</tspan></text>
<rect x="1346.4" y="1073" width="53.6" height="58.6" fill="#fff" fill-opacity="0.22"/>
<rect x="1603" y="1072" width="55" height="58" fill="#fff" fill-opacity="0.22"/>
<line x1="1415" y1="1117" x2="1382.2" y2="1156.5" stroke="#C00000" stroke-width="5.6"/>
<polygon points="1371,1170 1375.6,1150.4 1389.4,1161.9" fill="#C00000"/>
<line x1="1415" y1="1119" x2="1415" y2="1056.5" stroke="#FFC000" stroke-width="5.6"/>
<polygon points="1415,1039 1424.2,1057 1405.8,1057" fill="#FFC000"/>
<line x1="1415" y1="1117" x2="1450.5" y2="1117" stroke="#0070C0" stroke-width="5.6"/>
<polygon points="1468,1117 1450,1126 1450,1108" fill="#0070C0"/>
<line x1="1366" y1="1142" x2="1399.3" y2="1125" stroke="#000" stroke-width="6"/>
<polygon points="1414,1117.5 1402.5,1132.4 1395.2,1118.1" fill="#000"/>
<ellipse cx="1415.5" cy="1117" rx="1.8" ry="2.8" fill="#fff" stroke="#20715A" stroke-width="1"/>
<line x1="1672" y1="1114" x2="1639.1" y2="1154.4" stroke="#C00000" stroke-width="5.6"/>
<polygon points="1628,1168 1632.4,1148.4 1646.3,1159.7" fill="#C00000"/>
<line x1="1672" y1="1116" x2="1672" y2="1055.5" stroke="#FFC000" stroke-width="5.6"/>
<polygon points="1672,1038 1681.5,1056 1662.5,1056" fill="#FFC000"/>
<line x1="1672" y1="1114" x2="1730.5" y2="1114" stroke="#0070C0" stroke-width="5.6"/>
<polygon points="1748,1114 1730,1122.7 1730,1105.3" fill="#0070C0"/>
<line x1="1623" y1="1141" x2="1654.5" y2="1124.2" stroke="#000" stroke-width="6.2"/>
<polygon points="1670,1116 1658.1,1132 1650.1,1116.9" fill="#000"/>
<line x1="1624" y1="1142" x2="1685.5" y2="1142" stroke="#ED7D31" stroke-width="5.6"/>
<polygon points="1703,1142 1685,1151 1685,1133" fill="#ED7D31"/>
<polygon points="1694,1142 1676,1133 1676,1151" fill="#ED7D31"/>
<text x="1345" y="1115" font-size="34" font-family='"DejaVu Serif", "Liberation Serif", serif' >Δ<tspan font-style="italic">d</tspan></text>
<text x="1602" y="1115" font-size="34" font-family='"DejaVu Serif", "Liberation Serif", serif' >Δ<tspan font-style="italic">d</tspan></text>
<text x="1418" y="1038.8" font-size="32.5" font-family='"DejaVu Serif", "Liberation Serif", serif' >z</text>
<text x="1459.3" y="1145" font-size="32.5" font-family='"DejaVu Serif", "Liberation Serif", serif' >x</text>
<text x="1379" y="1187.5" font-size="32.5" font-family='"DejaVu Serif", "Liberation Serif", serif' >y</text>
<text x="1675" y="1035.4" font-size="32.5" font-family='"DejaVu Serif", "Liberation Serif", serif' >z</text>
<text x="1716.6" y="1143.3" font-size="32.5" font-family='"DejaVu Serif", "Liberation Serif", serif' >x</text>
<text x="1614" y="1195.7" font-size="32.5" font-family='"DejaVu Serif", "Liberation Serif", serif' >y</text>
<text x="1660.6" y="1181.6" font-size="37.5" font-family='"Liberation Serif", serif' >Δ F</text>
<text x="1208" y="725" font-size="36.5" font-family='"Liberation Serif", serif' >i</text>
<text x="1457" y="725" font-size="36.5" font-family='"Liberation Serif", serif' >ii</text>
<text x="1157" y="697" font-size="58" font-family='"Liberation Serif", serif' font-weight="bold">f</text>

</svg></body></html>
